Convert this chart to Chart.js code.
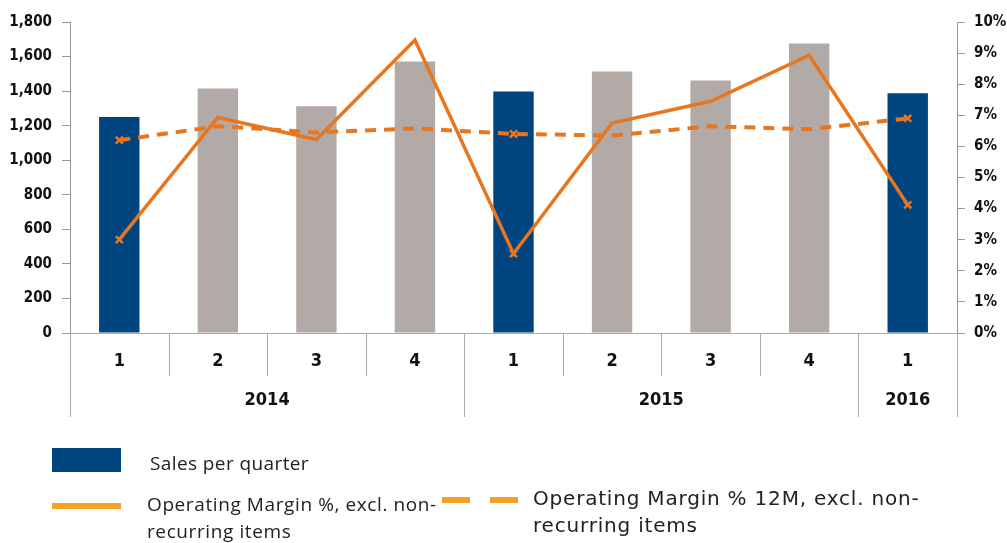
<!DOCTYPE html>
<html>
<head>
<meta charset="utf-8">
<script src="https://cdn.jsdelivr.net/npm/chart.js@4/dist/chart.umd.min.js"></script>
<style>
  html,body{margin:0;padding:0;background:#fff;}
  #wrap{position:relative;width:1007px;height:543px;overflow:hidden;}
  canvas{position:absolute;left:0;top:0;}
  .lg{position:absolute;font-family:"Open Sans","DejaVu Sans",sans-serif;color:#222;white-space:nowrap;line-height:27px;}
  .sw{position:absolute;}
</style>
</head>
<body>
<div id="wrap">
  <canvas id="c" width="1007" height="543"></canvas>
  <div class="sw" style="left:52px;top:448px;width:69px;height:24px;background:#004480;"></div>
  <div class="lg" style="left:150px;top:450px;font-size:19px;letter-spacing:0.4px;">Sales per quarter</div>
  <div class="sw" style="left:52px;top:503px;width:69px;height:6px;background:#F7A122;"></div>
  <div class="lg" style="left:147px;top:491px;font-size:19px;letter-spacing:0.6px;">Operating Margin %, excl. non-<br>recurring items</div>
  <div class="sw" style="left:442px;top:497px;width:28px;height:6px;background:#F7A122;"></div>
  <div class="sw" style="left:490px;top:497px;width:28px;height:6px;background:#F7A122;"></div>
  <div class="lg" style="left:533px;top:485px;font-size:20px;letter-spacing:0.8px;font-family:'DejaVu Sans',sans-serif;">Operating Margin % 12M, excl. non-<br>recurring items</div>
</div>
<script>
// quarterly data, 2014 Q1 .. 2016 Q1
const quarters = ['1','2','3','4','1','2','3','4','1'];
const years = ['2014','2015','2016'];
const yearSpans = [4,4,1];
const sales = [1250,1415,1312,1572,1398,1514,1462,1676,1387];
const opMargin = [3.0,6.93,6.22,9.42,2.55,6.75,7.45,8.93,4.12];
const opMargin12M = [6.2,6.65,6.45,6.58,6.4,6.35,6.65,6.55,6.9];

const NAVY = '#004480', GREY = '#B1AAA7', ORANGE = '#E8761E';
const barColors = quarters.map(q => q==='1' ? NAVY : GREY);
const markerR = quarters.map(q => q==='1' ? 5 : 0);

const tickFont = {family:'"DejaVu Sans Condensed","DejaVu Sans",sans-serif', weight:'bold', size:15};
const catFont = {family:'"DejaVu Sans Condensed","DejaVu Sans",sans-serif', weight:'bold', size:18};

// year labels + separators under the quarter labels
const yearAxis = {
  id:'yearAxis',
  afterDraw(chart){
    const ctx = chart.ctx, x = chart.scales.x, bot = chart.chartArea.bottom;
    ctx.save();
    ctx.strokeStyle = '#aaa'; ctx.lineWidth = 1;
    // quarter separators
    for (let i=1;i<quarters.length;i++){
      const px = Math.round(x.getPixelForValue(i-0.5))+0.5;
      ctx.beginPath(); ctx.moveTo(px,bot); ctx.lineTo(px,bot+43); ctx.stroke();
    }
    // year separators + labels
    ctx.fillStyle = '#111';
    ctx.font = 'bold 18px "DejaVu Sans Condensed","DejaVu Sans",sans-serif';
    ctx.textAlign = 'center'; ctx.textBaseline = 'middle';
    const edges = [0];
    yearSpans.forEach(n => edges.push(edges[edges.length-1]+n));
    edges.forEach(e => {
      const px = Math.round(x.getPixelForValue(e-0.5))+0.5;
      ctx.beginPath(); ctx.moveTo(px,bot); ctx.lineTo(px,bot+84); ctx.stroke();
    });
    years.forEach((y,i) => {
      const l = x.getPixelForValue(edges[i]-0.5), r = x.getPixelForValue(edges[i+1]-0.5);
      ctx.fillText(y,(l+r)/2,bot+67);
    });
    ctx.restore();
  }
};

new Chart(document.getElementById('c'), {
  data:{
    labels: quarters,
    datasets:[
      {type:'line', label:'Operating Margin %, excl. non-recurring items', data:opMargin, yAxisID:'y1',
       borderColor:ORANGE, borderWidth:3.5, pointStyle:'crossRot', pointRadius:markerR, pointBorderColor:ORANGE,
       pointBorderWidth:2.5, tension:0, order:1},
      {type:'line', label:'Operating Margin % 12M, excl. non-recurring items', data:opMargin12M, yAxisID:'y1',
       borderColor:ORANGE, borderWidth:4, borderDash:[11,8], pointStyle:'crossRot', pointRadius:markerR,
       pointBorderColor:ORANGE, pointBorderWidth:2.5, tension:0, order:2},
      {type:'bar', label:'Sales per quarter', data:sales, yAxisID:'y', backgroundColor:barColors,
       barPercentage:0.41, categoryPercentage:1, order:3}
    ]
  },
  options:{
    responsive:false, animation:false, devicePixelRatio:1,
    layout:{padding:{top:22,left:0,right:0,bottom:0}},
    plugins:{legend:{display:false}, tooltip:{enabled:false}},
    scales:{
      x:{
        offset:true,
        grid:{display:false},
        border:{display:true,color:'#aaa'},
        ticks:{color:'#111', font:catFont, padding:10, maxRotation:0},
        afterFit(s){ s.height = 210; }
      },
      y:{
        position:'left', min:0, max:1800,
        grid:{drawOnChartArea:false, drawTicks:true, tickLength:8, color:'#999'},
        border:{display:true,color:'#999'},
        ticks:{stepSize:200, color:'#111', font:tickFont, padding:10,
          callback:v => v.toLocaleString('en-US')},
        afterFit(s){ s.width = 70; }
      },
      y1:{
        position:'right', min:0, max:10,
        grid:{drawOnChartArea:false, drawTicks:true, tickLength:8, color:'#999'},
        border:{display:true,color:'#999'},
        ticks:{stepSize:1, color:'#111', font:tickFont, padding:9, callback:v => v+'%'},
        afterFit(s){ s.width = 50; }
      }
    }
  },
  plugins:[yearAxis]
});
</script>
</body>
</html>
